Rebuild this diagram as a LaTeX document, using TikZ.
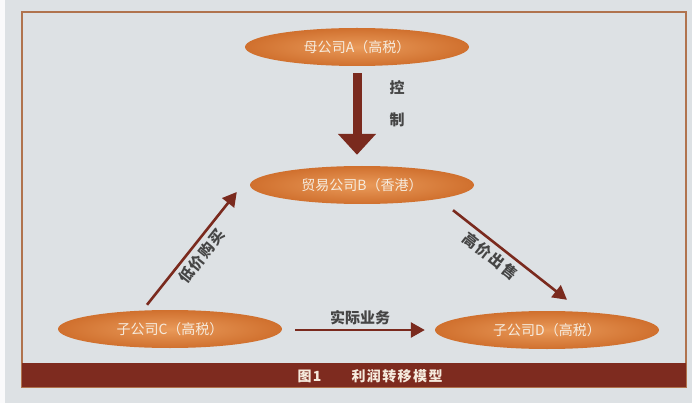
\documentclass[tikz,border=0pt]{standalone}
\usepackage{fontspec}
\newfontfamily\cjk{Noto Sans CJK SC}
\newfontfamily\cjkwide[LetterSpace=10]{Noto Sans CJK SC}
\usetikzlibrary{shapes.geometric,arrows.meta,calc}
\definecolor{bgc}{HTML}{DDE1E4}
\definecolor{borderc}{HTML}{B0734E}
\definecolor{barc}{HTML}{7E2B1F}
\definecolor{arrc}{HTML}{7A2A1E}
\definecolor{orin}{HTML}{E99A5A}
\definecolor{orout}{HTML}{D0702E}
\definecolor{ovtext}{HTML}{F6EBDD}
\definecolor{lbl}{HTML}{454545}
\begin{document}
\begin{tikzpicture}[x=1pt,y=-1pt,
  company/.style={ellipse, minimum width=224pt, minimum height=38pt, inner sep=0pt,
    inner color=orin, outer color=orout, text=ovtext, font=\cjk\fontsize{14}{16}\selectfont},
  thinarrow/.style={draw=arrc, line width=2.6pt, -{Triangle[width=15pt,length=14pt]}},
  bigarrow/.style={draw=arrc, line width=9pt, -{Triangle[width=37pt,length=21pt]}},
  lab/.style={text=lbl, font=\cjk\bfseries\fontsize{15}{17}\selectfont},
  slab/.style={text=lbl, font=\cjkwide\bfseries\fontsize{15}{17}\selectfont},
  bartext/.style={text=ovtext, font=\cjkwide\bfseries\fontsize{14}{16}\selectfont}]
\fill[bgc] (0,0) rectangle (692,403);
\useasboundingbox (0,0) rectangle (692,403);
\fill[white!85!bgc] (0,0) rectangle (5,403);
\draw[borderc, line width=1.5pt] (22,12) rectangle (686,387);
\fill[barc] (22,363) rectangle (686,387);
\node[bartext, anchor=west] (fig) at (294,376) {图1};
\node[bartext, anchor=west] (cap) at (348,376) {利润转移模型};

\node[company] (A) at (357,47) {母公司A（高税）};
\node[company] (B) at (362,185) {贸易公司B（香港）};
\node[company] (C) at (170,329) {子公司C（高税）};
\node[company] (D) at (547,330) {子公司D（高税）};

\draw[bigarrow] ($(A.south)+(0,7)$) -- ($(A.south |- B.north)+(0,-11)$);
\node[lab] (k1) at (397,88) {控};
\node[lab] (k2) at (397,120) {制};

\draw[thinarrow] ($(C.north)+(-23,-5)$) -- node[slab, midway, sloped, below, inner sep=4pt] (l1) {低价购买} ($(B.west)+(-13,7)$);
\draw[thinarrow] ($(B.south)+(91,6)$) -- node[slab, pos=0.4, sloped, below, inner sep=4pt] (l2) {高价出售} ($(D.north)+(20,-11)$);
\draw[thinarrow] ($(C.east)+(13,1)$) -- node[lab, midway, above, inner sep=4pt] (l3) {实际业务} ($(D.west |- C.east)+(-10,1)$);
\end{tikzpicture}
\end{document}
